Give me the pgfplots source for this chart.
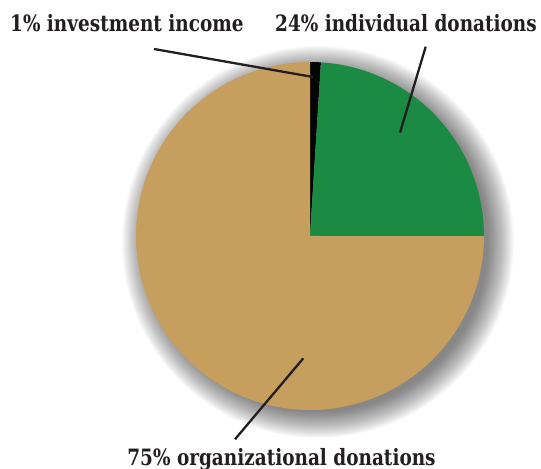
\documentclass[border=0pt]{standalone}
\usepackage{pgfplots}
\pgfplotsset{compat=1.18}
\usepackage{pgfplotstable}
\usepackage{fontspec}
\setmainfont{DejaVu Serif}[FakeStretch=0.82]
\definecolor{piegreen}{HTML}{1B8A42}
\definecolor{pietan}{HTML}{C69E5E}
\definecolor{pieblack}{HTML}{050505}
\definecolor{txt}{HTML}{231F20}
\pgfplotstableread{
share
1
24
75
}\shares
\pgfplotstablegetelem{0}{share}\of\shares\let\sA\pgfplotsretval%
\pgfplotstablegetelem{1}{share}\of\shares\let\sB\pgfplotsretval%
\pgfplotstablegetelem{2}{share}\of\shares\let\sC\pgfplotsretval%
\pgfmathsetmacro\aA{90}%
\pgfmathsetmacro\aB{\aA-3.6*\sA}%
\pgfmathsetmacro\aC{\aB-3.6*\sB}%
\pgfmathsetmacro\aD{\aC-3.6*\sC}%
\begin{document}%
\begin{tikzpicture}
\useasboundingbox (0,0) rectangle (541bp,469bp);
\begin{axis}[
  at={(0,0)}, anchor=origin,
  x=1bp, y=1bp,
  xmin=0, xmax=541, ymin=0, ymax=469,
  enlargelimits=false,
  hide axis, clip=false,
]
% shadow (stacked translucent discs)
\pgfplotsinvokeforeach{170,171,...,196}{%
  \fill[black, fill opacity=0.025] (axis cs:318,227) circle[radius=#1bp];}
% slices
\addplot[fill=pieblack, draw=none, domain=\aB:\aA, samples=8, variable=\t]
  ({310+174*cos(\t)},{233+174*sin(\t)}) -- (axis cs:310,233) -- cycle;
\addplot[fill=piegreen, draw=none, domain=\aC:\aB, samples=80, variable=\t]
  ({310+174*cos(\t)},{233+174*sin(\t)}) -- (axis cs:310,233) -- cycle;
\addplot[fill=pietan, draw=none, domain=\aD:\aC, samples=240, variable=\t]
  ({310+174*cos(\t)},{233+174*sin(\t)}) -- (axis cs:310,233) -- cycle;
% leader lines
\addplot[txt, line width=2.3bp] coordinates {(154,420) (313,392)};
\addplot[txt, line width=2.3bp] coordinates {(425.7,422.3) (400,336.3)};
\addplot[txt, line width=2.3bp] coordinates {(303.3,110.7) (235,29.7)};
% labels
\node[anchor=base west, inner sep=0pt, text=txt, font=\fontsize{22.5bp}{24bp}\selectfont\bfseries] at (axis cs:10,437) {1\% investment income};
\node[anchor=base east, inner sep=0pt, text=txt, font=\fontsize{22.5bp}{24bp}\selectfont\bfseries] at (axis cs:537,437) {24\% individual donations};
\node[anchor=base, inner sep=0pt, text=txt, font=\fontsize{22.5bp}{24bp}\selectfont\bfseries] at (axis cs:281.5,4) {75\% organizational donations};
\end{axis}
\end{tikzpicture}%
\end{document}
